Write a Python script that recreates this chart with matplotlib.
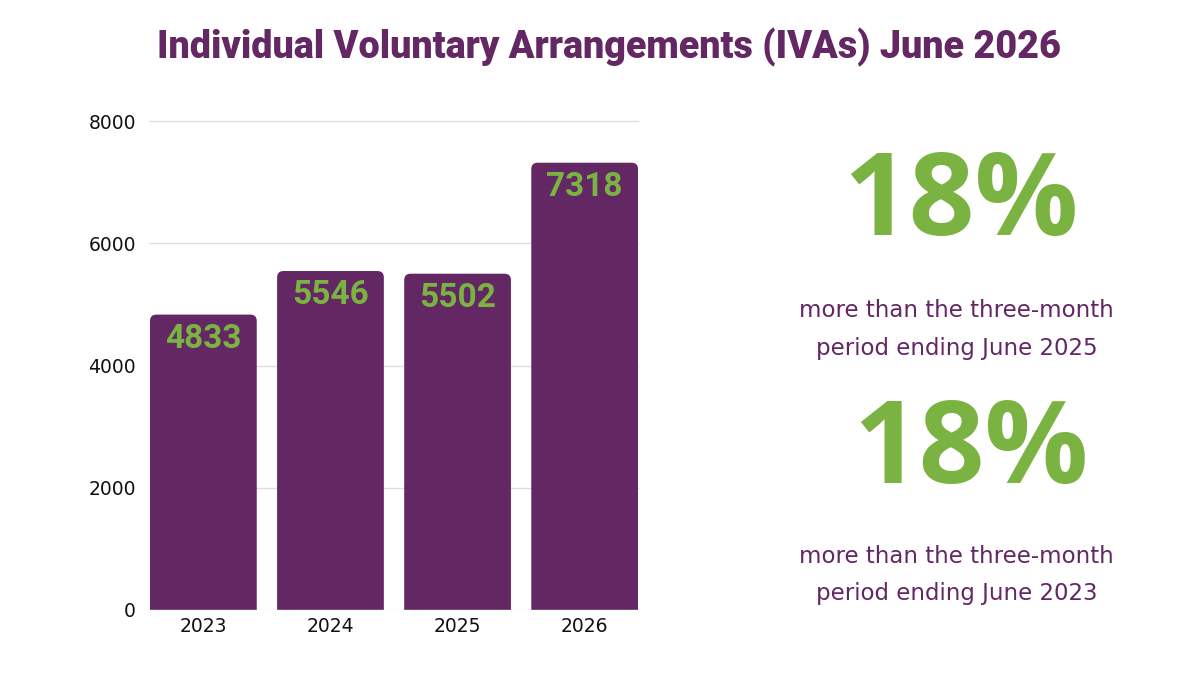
import numpy as np
import matplotlib
matplotlib.use("Agg")
import matplotlib.pyplot as plt
from matplotlib.patches import FancyBboxPatch

# data
years = ["2023", "2024", "2025", "2026"]
iva_counts = [4833, 5546, 5502, 7318]
y_ticks = [0, 2000, 4000, 6000, 8000]
big_numbers = ["18%", "18%"]
captions = ["more than the three-month\nperiod ending June 2025",
            "more than the three-month\nperiod ending June 2023"]

purple = "#632764"
green = "#7BB342"

fig = plt.figure(figsize=(12, 6.75), dpi=100)
ax = fig.add_axes([0.125, 0.0963, 0.4067, 0.7244])

x = np.arange(len(years))
bar_w = 0.84
bars = ax.bar(x, iva_counts, width=bar_w, color="none", edgecolor="none")

# rounded tops: the box runs below 0 so the bottom corners get clipped
rx = 0.05
ry = rx * (8000 / 0.7244 / 675) / (3.84 / 0.4067 / 1200)
for b in bars:
    bx, bw, bh = b.get_x(), b.get_width(), b.get_height()
    ax.add_patch(FancyBboxPatch((bx, -600), bw, bh + 600,
                                boxstyle=f"round,pad=0,rounding_size={rx}",
                                mutation_aspect=ry / rx,
                                facecolor=purple, edgecolor="none", zorder=3))
    ax.text(bx + bw / 2, bh - 395, f"{int(bh)}", ha="center", va="center",
            color=green, fontsize=24, fontweight="bold",
            family="Roboto", zorder=4)

ax.set_xlim(-0.42, 3.42)
ax.set_ylim(0, 8000)
ax.set_yticks(y_ticks)
ax.set_yticklabels([str(t) for t in y_ticks], fontsize=13.5,
                   family="DejaVu Sans", color="#111111")
ax.set_xticks(x)
ax.set_xticklabels(years, fontsize=13.5, family="DejaVu Sans", color="#111111")
ax.tick_params(axis="y", length=0, pad=10)
ax.tick_params(axis="x", length=0, pad=5)
for s in ax.spines.values():
    s.set_visible(False)
for t in y_ticks[1:]:
    ax.axhline(t, color="#dddddd", lw=1, zorder=1, clip_on=False)
ax.axhline(0, color="#e4dce6", lw=1, zorder=4)

fig.text(0.5075, 0.914, "Individual Voluntary Arrangements (IVAs) June 2026",
         ha="center", va="baseline", fontsize=27.2, fontweight="heavy",
         family="Roboto", color=purple)

# right-hand callouts
big_pos = [(0.801, 0.652), (0.809, 0.284)]
cap_pos = [(0.797, 0.512), (0.797, 0.148)]
for num, (bxp, byp) in zip(big_numbers, big_pos):
    fig.text(bxp, byp, num, ha="center", va="baseline", fontsize=83,
             fontweight="bold", family="Open Sans", color=green)
for cap, (cxp, cyp) in zip(captions, cap_pos):
    fig.text(cxp, cyp, cap, ha="center", va="center", fontsize=16.5,
             family="DejaVu Sans", color=purple, linespacing=1.8)

fig.savefig("out.png", dpi=100, facecolor="white")
